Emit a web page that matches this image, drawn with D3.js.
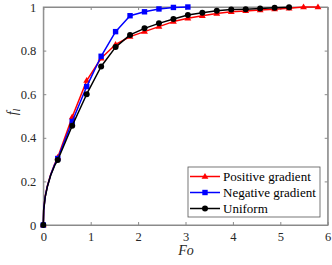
<!DOCTYPE html>
<html>
<head>
<meta charset="utf-8">
<script src="https://cdn.jsdelivr.net/npm/d3@7"></script>
<style>
  body { margin: 0; background: #fff; }
  svg { display: block; }
</style>
</head>
<body>
<div id="plot"></div>
<script>
// Fourier number at the marker points
var fo = [0, 0.305, 0.61, 0.915, 1.22, 1.525, 1.83, 2.135, 2.44, 2.745, 3.05,
          3.355, 3.66, 3.965, 4.27, 4.575, 4.88, 5.185, 5.49, 5.795];

// early part of the curves (no markers)
var foEarly = [0.008, 0.04, 0.084, 0.156, 0.24];
var posEarly = [0.07, 0.132, 0.178, 0.232, 0.28];
var negEarly = [0.069, 0.13, 0.176, 0.23, 0.277];
var uniEarly = [0.068, 0.128, 0.174, 0.228, 0.273];

var positive = [0, 0.31, 0.495, 0.662, 0.765, 0.828, 0.864, 0.887, 0.91, 0.933, 0.948,
                0.96, 0.97, 0.978, 0.982, 0.986, 0.99, 0.994, 1.0, 1.0];
var negative = [0, 0.305, 0.475, 0.635, 0.774, 0.887, 0.96, 0.978, 0.991, 0.998, 1.0];
var uniform  = [0, 0.298, 0.455, 0.6, 0.727, 0.816, 0.872, 0.902, 0.925, 0.945, 0.963,
                0.974, 0.983, 0.988, 0.99, 0.993, 0.996, 0.999];

var xTicks = [0, 1, 2, 3, 4, 5, 6];
var yTicks = [0, 0.2, 0.4, 0.6, 0.8, 1];

var series = [
  {name: "Positive gradient", color: "#ff0000", marker: "tri", early: posEarly, vals: positive},
  {name: "Negative gradient", color: "#0000ff", marker: "sq", early: negEarly, vals: negative},
  {name: "Uniform", color: "#000000", marker: "dot", early: uniEarly, vals: uniform}
];

var width = 332, height = 265;
var font = "'Liberation Serif'";

var svg = d3.select("#plot").append("svg")
  .attr("width", width).attr("height", height);

var x = d3.scaleLinear().domain([0, 6]).range([43.3, 327.7]);
var y = d3.scaleLinear().domain([0, 1]).range([225, 7]);

var axisColor = "#8a8a8a";

// box
svg.append("rect")
  .attr("x", x(0)).attr("y", y(1))
  .attr("width", x(6) - x(0)).attr("height", y(0) - y(1))
  .attr("fill", "none").attr("stroke", axisColor).attr("stroke-width", 1);

// axes with inward ticks
var gx = svg.append("g").attr("transform", "translate(0," + y(0) + ")")
  .call(d3.axisBottom(x).tickValues(xTicks).tickSizeInner(-3).tickSizeOuter(0).tickPadding(7).tickFormat(d3.format("d")));
var gxTop = svg.append("g").attr("transform", "translate(0," + y(1) + ")")
  .call(d3.axisTop(x).tickValues(xTicks).tickSizeInner(-3).tickSizeOuter(0).tickFormat(""));
var gy = svg.append("g").attr("transform", "translate(" + x(0) + ",0)")
  .call(d3.axisLeft(y).tickValues(yTicks).tickSizeInner(-3).tickSizeOuter(0).tickPadding(7).tickFormat(function(d){ return d3.format("")(+d.toFixed(1)); }));
var gyRight = svg.append("g").attr("transform", "translate(" + x(6) + ",0)")
  .call(d3.axisRight(y).tickValues(yTicks).tickSizeInner(-3).tickSizeOuter(0).tickFormat(""));

[gx, gxTop, gy, gyRight].forEach(function(g){
  g.attr("font-family", font);
  g.select(".domain").attr("stroke", axisColor);
  g.selectAll(".tick line").attr("stroke", axisColor);
  g.selectAll("text").style("font-family", font).attr("font-size", "12.5px").attr("fill", "#262626");
});

// curves
var line = d3.line().x(function(d){ return x(d[0]); }).y(function(d){ return y(d[1]); });

function triPath(cx, cy, s) {
  return "M" + cx + "," + (cy - s) + "L" + (cx + s * 0.95) + "," + (cy + s * 0.6) + "L" + (cx - s * 0.95) + "," + (cy + s * 0.6) + "Z";
}

function drawMarker(g, type, cx, cy, color) {
  if (type == "tri") {
    g.append("path").attr("d", triPath(cx, cy, 3.6)).attr("fill", color);
  } else if (type == "sq") {
    g.append("rect").attr("x", cx - 2.7).attr("y", cy - 2.7).attr("width", 5.4).attr("height", 5.4).attr("fill", color);
  } else {
    g.append("circle").attr("cx", cx).attr("cy", cy).attr("r", 3).attr("fill", color);
  }
}

series.forEach(function(s){
  var pts = [[0, s.vals[0]]];
  s.early.forEach(function(v, i){ pts.push([foEarly[i], v]); });
  s.vals.forEach(function(v, i){ if (i > 0) pts.push([fo[i], v]); });
  svg.append("path").datum(pts).attr("d", line)
    .attr("fill", "none").attr("stroke", s.color).attr("stroke-width", 1.5)
    .attr("stroke-linejoin", "round");
  var gm = svg.append("g");
  s.vals.forEach(function(v, i){ drawMarker(gm, s.marker, x(fo[i]), y(v), s.color); });
});

// legend
var lg = svg.append("g");
lg.append("rect").attr("x", 188).attr("y", 167).attr("width", 132).attr("height", 50)
  .attr("fill", "#fff").attr("stroke", "#555").attr("stroke-width", 0.8);
series.forEach(function(s, i){
  var ly = 176.5 + i * 16;
  lg.append("line").attr("x1", 190).attr("x2", 220).attr("y1", ly).attr("y2", ly)
    .attr("stroke", s.color).attr("stroke-width", 1.5);
  drawMarker(lg, s.marker, 205, ly, s.color);
  lg.append("text").attr("x", 223).attr("y", ly + 4.5)
    .style("font-family", font).attr("font-size", "13px").attr("fill", "#000")
    .text(s.name);
});

// axis labels
svg.append("text").attr("x", 186).attr("y", 255)
  .attr("text-anchor", "middle").style("font-family", font).attr("font-style", "italic")
  .attr("font-size", "14px").attr("fill", "#262626").text("Fo");

var yl = svg.append("text").attr("transform", "translate(17,112) rotate(-90)")
  .attr("text-anchor", "middle").style("font-family", font).attr("font-style", "italic")
  .attr("font-size", "14px").attr("fill", "#262626");
yl.append("tspan").text("f");
yl.append("tspan").attr("dy", 3).attr("font-size", "10px").text("l");
</script>
</body>
</html>
